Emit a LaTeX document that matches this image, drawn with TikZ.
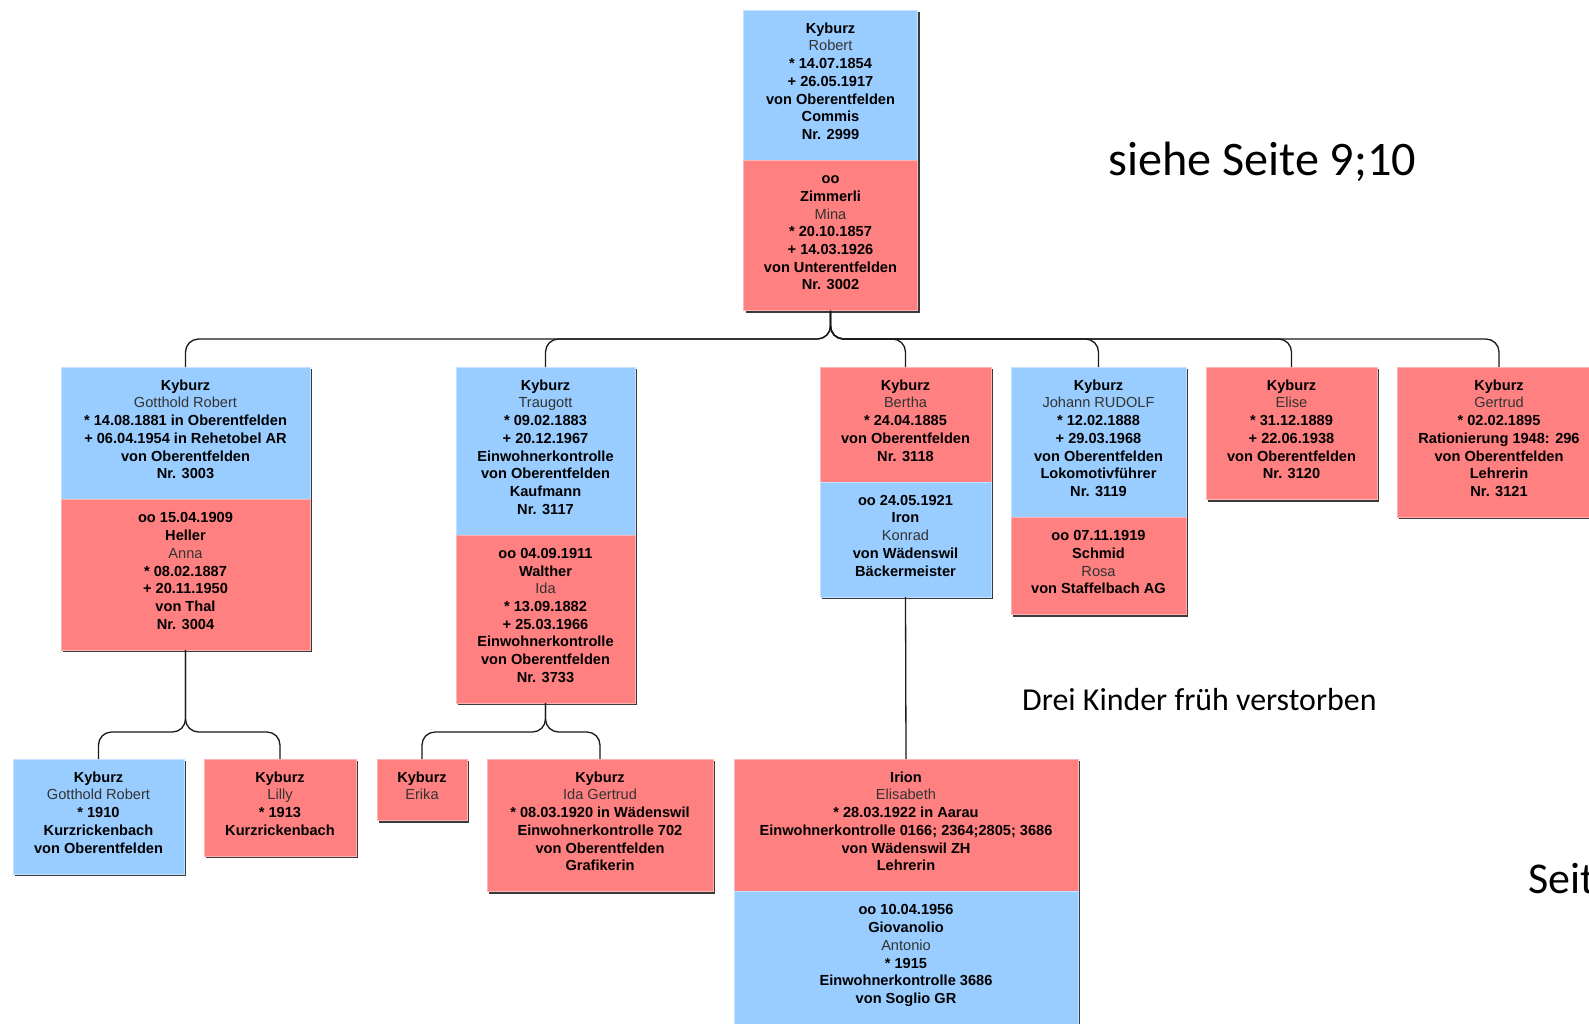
\documentclass[tikz,border=0pt]{standalone}
\usepackage{fontspec}
\setmainfont{Liberation Sans}
\newfontfamily\calib{Carlito}
\usetikzlibrary{shadows}
\definecolor{bluefill}{HTML}{99CCFF}
\definecolor{blueline}{HTML}{C4E2FF}
\definecolor{redfill}{HTML}{FF8080}
\definecolor{redline}{HTML}{FFB3B3}
\definecolor{namegray}{HTML}{333333}
\definecolor{shadowc}{HTML}{3A3A3A}
\definecolor{connc}{HTML}{1A1A1A}
\newcommand{\nm}[1]{{\mdseries\color{namegray}#1}}
\newcommand{\psect}[7]{\node[sect,#6,anchor=north] (#1) at (#2,#3) {\parbox[t][\dimexpr 17.7pt*#5+26.5pt\relax][t]{#4pt}{\centering\vspace*{12.6pt}\rule{0pt}{10.6pt}#7\par}};}
\begin{document}
\begin{tikzpicture}[x=1pt,y=-1pt,
  sect/.style={rectangle, inner sep=0pt, outer sep=0pt, line width=1pt,
    font=\fontsize{14.6}{17.7}\selectfont\bfseries,
    drop shadow={shadow xshift=2pt, shadow yshift=-2pt, fill=shadowc, opacity=1}},
  malesec/.style={fill=bluefill, draw=blueline},
  femsec/.style={fill=redfill, draw=redline},
  conn/.style={draw=connc, line width=1.3pt, rounded corners=13pt},
  note/.style={anchor=base west, inner sep=0pt, text=black}]
\useasboundingbox (0,0) rectangle (1589,1023);
\fill[white] (0,0) rectangle (1589,1023);

% top couple
\psect{robert}{830.5}{10}{174}{7}{malesec}{Kyburz\\\nm{Robert}\\{*} 14.07.1854\\+ 26.05.1917\\von Oberentfelden\\Commis\\Nr. 2999}
\psect{mina}{830.5}{160.4}{174}{7}{femsec}{oo\\Zimmerli\\\nm{Mina}\\{*} 20.10.1857\\+ 14.03.1926\\von Unterentfelden\\Nr. 3002}

% children row
\psect{gotthold}{185.5}{367}{249}{6}{malesec}{Kyburz\\\nm{Gotthold Robert}\\{*} 14.08.1881 in Oberentfelden\\+ 06.04.1954 in Rehetobel AR\\von Oberentfelden\\Nr. 3003}
\psect{anna}{185.5}{499.7}{249}{7}{femsec}{oo 15.04.1909\\Heller\\\nm{Anna}\\{*} 08.02.1887\\+ 20.11.1950\\von Thal\\Nr. 3004}

\psect{traugott}{545.5}{367}{179}{8}{malesec}{Kyburz\\\nm{Traugott}\\{*} 09.02.1883\\+ 20.12.1967\\Einwohnerkontrolle\\von Oberentfelden\\Kaufmann\\Nr. 3117}
\psect{ida}{545.5}{535.1}{179}{8}{femsec}{oo 04.09.1911\\Walther\\\nm{Ida}\\{*} 13.09.1882\\+ 25.03.1966\\Einwohnerkontrolle\\von Oberentfelden\\Nr. 3733}

\psect{bertha}{905.5}{367}{171}{5}{femsec}{Kyburz\\\nm{Bertha}\\{*} 24.04.1885\\von Oberentfelden\\Nr. 3118}
\psect{konrad}{905.5}{482}{171}{5}{malesec}{oo 24.05.1921\\Iron\\\nm{Konrad}\\von Wädenswil\\Bäckermeister}

\psect{johann}{1098.5}{367}{175}{7}{malesec}{Kyburz\\\nm{Johann RUDOLF}\\{*} 12.02.1888\\+ 29.03.1968\\von Oberentfelden\\Lokomotivführer\\Nr. 3119}
\psect{rosa}{1098.5}{517.4}{175}{4}{femsec}{oo 07.11.1919\\Schmid\\\nm{Rosa}\\von Staffelbach AG}

\psect{elise}{1291.5}{367}{171}{6}{femsec}{Kyburz\\\nm{Elise}\\{*} 31.12.1889\\+ 22.06.1938\\von Oberentfelden\\Nr. 3120}

\psect{gertrud}{1499}{367}{204}{7}{femsec}{Kyburz\\\nm{Gertrud}\\{*} 02.02.1895\\Rationierung 1948: 296\\von Oberentfelden\\Lehrerin\\Nr. 3121}

% grandchildren
\psect{gjr}{98.5}{759}{171}{5}{malesec}{Kyburz\\\nm{Gotthold Robert}\\{*} 1910\\Kurzrickenbach\\von Oberentfelden}
\psect{lilly}{280}{759}{152}{4}{femsec}{Kyburz\\\nm{Lilly}\\{*} 1913\\Kurzrickenbach}
\psect{erika}{422}{759}{90}{2}{femsec}{Kyburz\\\nm{Erika}}
\psect{idag}{600}{759}{226}{6}{femsec}{Kyburz\\\nm{Ida Gertrud}\\{*} 08.03.1920 in Wädenswil\\Einwohnerkontrolle 702\\von Oberentfelden\\Grafikerin}
\psect{elisabeth}{906}{759}{344}{6}{femsec}{Irion\\\nm{Elisabeth}\\{*} 28.03.1922 in Aarau\\Einwohnerkontrolle 0166; 2364;2805; 3686\\von Wädenswil ZH\\Lehrerin}
\psect{antonio}{906}{891.7}{344}{6}{malesec}{oo 10.04.1956\\Giovanolio\\\nm{Antonio}\\{*} 1915\\Einwohnerkontrolle 3686\\von Soglio GR}

% connectors
\coordinate (busA) at (830.5,339);
\coordinate (busB) at (185.5,732);
\coordinate (busC) at (545.5,732);
\foreach \c in {gotthold,traugott,bertha,johann,elise,gertrud}
  \draw[conn] (mina.south) -- (busA) -| (\c.north);
\foreach \c in {gjr,lilly}
  \draw[conn] (anna.south) -- (busB) -| (\c.north);
\foreach \c in {erika,idag}
  \draw[conn] (ida.south) -- (busC) -| (\c.north);
\draw[conn] (konrad.south) -- (elisabeth.north);

% notes
\node[note, font=\calib\fontsize{48.2}{52}\selectfont] (siehe) at (1108,175) {siehe Seite 9;10};
\node[note, font=\calib\fontsize{31.9}{36}\selectfont] (drei) at (1022,710) {Drei Kinder früh verstorben};
\node[note, font=\calib\fontsize{44}{48}\selectfont] (seit) at (1528,893) {Seit};
\end{tikzpicture}
\end{document}
